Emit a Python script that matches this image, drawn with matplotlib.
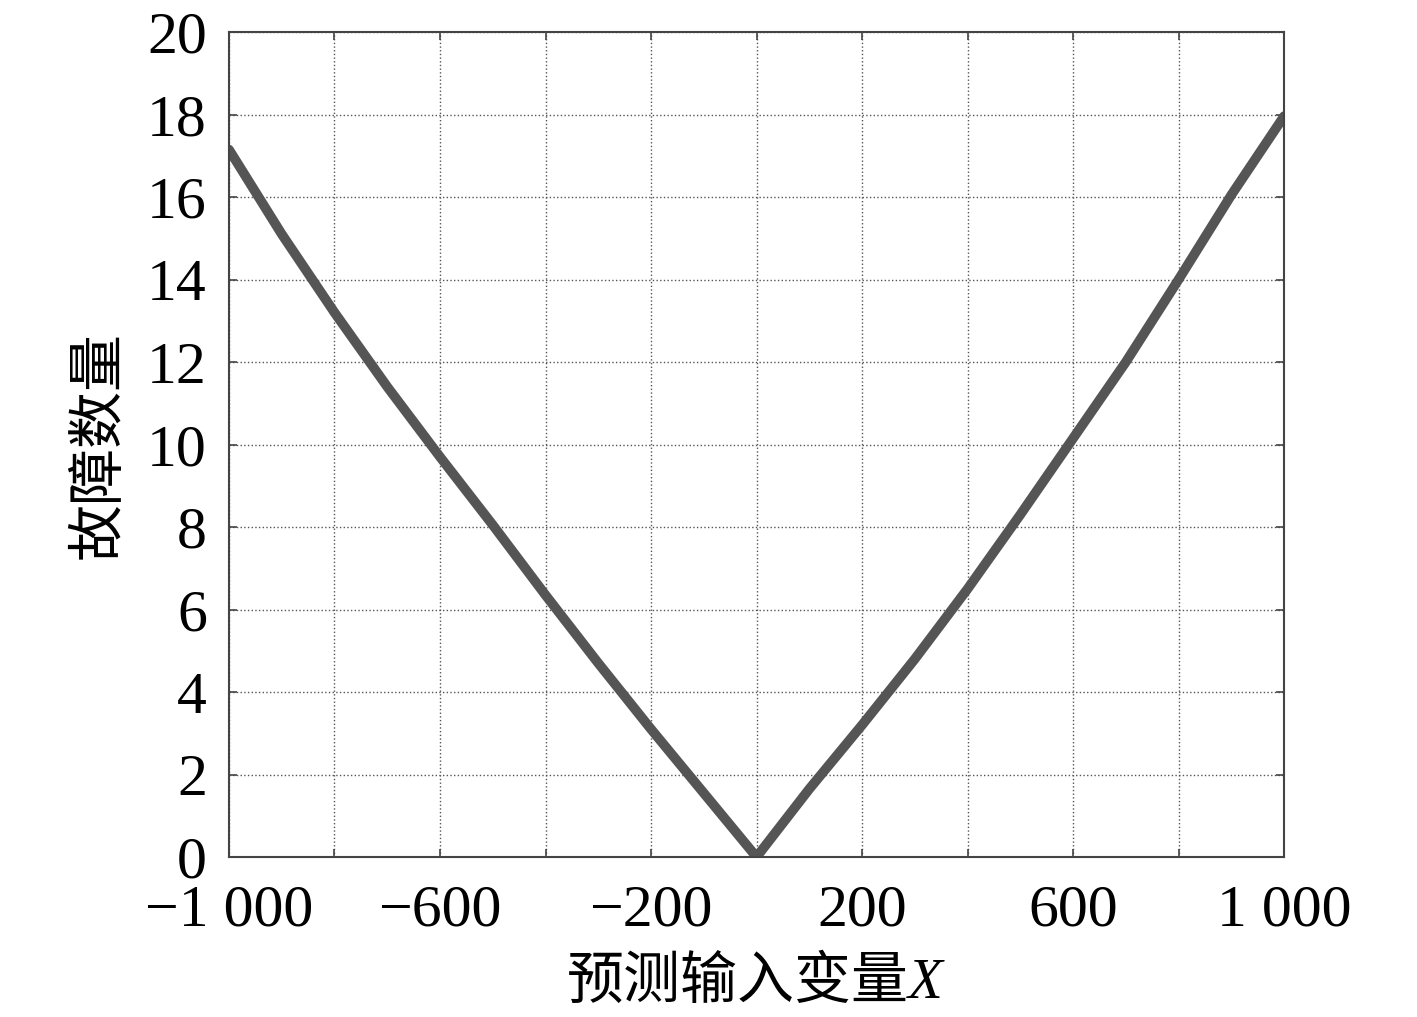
import numpy as np
import matplotlib
matplotlib.use("Agg")
import matplotlib.pyplot as plt

plt.rcParams['font.family'] = ['Liberation Serif', 'Noto Sans CJK SC']
plt.rcParams['mathtext.fontset'] = 'custom'
plt.rcParams['mathtext.it'] = 'Liberation Serif:italic'
plt.rcParams['mathtext.rm'] = 'Liberation Serif'

# curve, every 100 units
x_vals = [-1000, -900, -800, -700, -600, -500, -400, -300, -200, -100, 0,
          100, 200, 300, 400, 500, 600, 700, 800, 900, 1000]
y_vals = [17.15, 15.1, 13.2, 11.4, 9.7, 8.05, 6.35, 4.7, 3.1, 1.55, 0.0,
          1.65, 3.2, 4.8, 6.5, 8.3, 10.15, 12.0, 14.0, 16.05, 17.96]

x_ticks = np.arange(-1000, 1001, 200)
x_ticklabels = ['\u22121 000', '', '\u2212600', '', '\u2212200', '',
                '200', '', '600', '', '1 000']
y_ticks = np.arange(0, 21, 2)

xlabel = '预测输入变量$X$'
ylabel = '故障数量'

fig = plt.figure(figsize=(14.17, 10.17), dpi=100)
ax = fig.add_axes([0.1616, 0.1573, 0.9062 - 0.1616, 0.9685 - 0.1573])

ax.plot(x_vals, y_vals, color='#555555', linewidth=7, solid_joinstyle='round',
        solid_capstyle='round')

ax.set_xlim(-1000, 1000)
ax.set_ylim(0, 20)
ax.set_xticks(x_ticks)
ax.set_xticklabels(x_ticklabels)
ax.set_yticks(y_ticks)

ax.grid(True, linestyle=':', color='#555555', linewidth=1.0)
ax.tick_params(direction='in', top=True, right=True, length=6, width=1.2,
               color='#444444', labelsize=43)
ax.tick_params(axis='x', pad=20)
ax.tick_params(axis='y', pad=16)
for s in ax.spines.values():
    s.set_color('#444444')
    s.set_linewidth(1.5)

ax.set_xlabel(xlabel, fontsize=41, family=['Noto Sans CJK SC', 'Liberation Serif'], labelpad=10)
ax.set_ylabel(ylabel, fontsize=41, family=['Noto Sans CJK SC', 'Liberation Serif'], labelpad=14)

fig.savefig('out.png', dpi=100)
